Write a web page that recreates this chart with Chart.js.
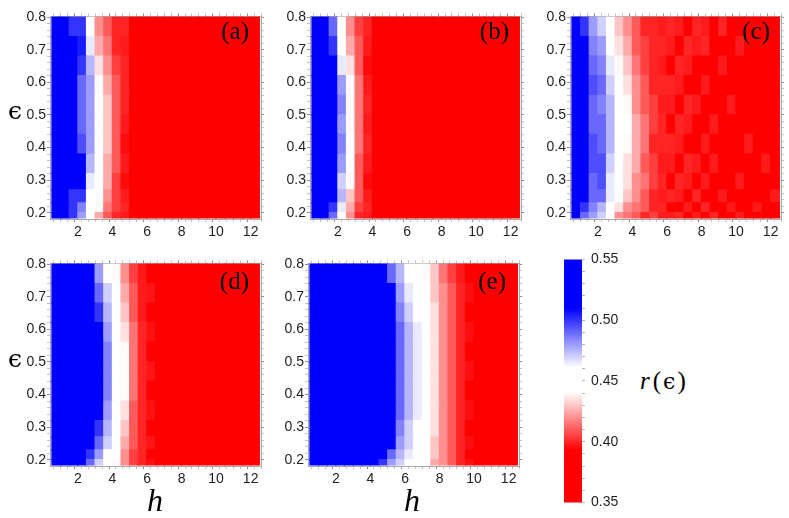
<!DOCTYPE html>
<html><head><meta charset="utf-8">
<script src="https://cdn.jsdelivr.net/npm/chart.js@4.4.1/dist/chart.umd.min.js"></script>
<style>
html,body{margin:0;padding:0;background:#fff}
body{position:relative;width:789px;height:518px;overflow:hidden}
canvas{position:absolute}
.lbl{position:absolute;font-family:"Liberation Serif","Times New Roman",serif;color:#000;line-height:1;white-space:nowrap}
</style></head><body>
<canvas id="pa" width="267" height="236" style="left:2px;top:7px"></canvas>
<canvas id="pb" width="267" height="236" style="left:262px;top:7px"></canvas>
<canvas id="pc" width="267" height="236" style="left:522px;top:7px"></canvas>
<canvas id="pd" width="267" height="236" style="left:2px;top:254px"></canvas>
<canvas id="pe" width="267" height="236" style="left:260px;top:254px"></canvas>
<canvas id="cb" width="72" height="272" style="left:560px;top:245px"></canvas>

<div class="lbl" style="right:540px;top:18px;font-size:25px">(a)</div>
<div class="lbl" style="right:280px;top:18px;font-size:25px">(b)</div>
<div class="lbl" style="right:19px;top:18px;font-size:25px">(c)</div>
<div class="lbl" style="right:540px;top:268px;font-size:25px">(d)</div>
<div class="lbl" style="right:283px;top:268px;font-size:25px">(e)</div>
<div class="lbl" style="left:8px;top:98px;font-size:25px;font-family:'DejaVu Serif',serif">ϵ</div>
<div class="lbl" style="left:8px;top:346px;font-size:25px;font-family:'DejaVu Serif',serif">ϵ</div>
<div class="lbl" style="left:147px;top:484px;font-size:32px;font-style:italic">h</div>
<div class="lbl" style="left:404px;top:484px;font-size:32px;font-style:italic">h</div>
<div class="lbl" style="left:640px;top:368px;font-size:25px"><i>r</i><span style="margin-left:3px">(</span><span style="font-family:'DejaVu Serif',serif;font-size:22px;margin:0 2px">ϵ</span>)</div>

<script>
// ---- data ----
const hCenters = [0.75,1.25,1.75,2.25,2.75,3.25,3.75,4.25,4.75,5.25,5.75,6.25,6.75,7.25,7.75,8.25,8.75,9.25,9.75,10.25,10.75,11.25,11.75,12.25];
const epsEdges = [0.185,0.20,0.23,0.27,0.32,0.38,0.44,0.50,0.56,0.62,0.68,0.74,0.80];
const xTickLabels = [2,4,6,8,10,12];
const yTickLabels = [0.2,0.3,0.4,0.5,0.6,0.7,0.8];
const cbTickLabels = [0.35,0.40,0.45,0.50,0.55];
const cmapValues = [0.35,0.393,0.441,0.461,0.51,0.55];
const cmapColors = [[255,0,0],[255,0,0],[255,255,255],[255,255,255],[0,0,255],[0,0,255]];

// rows bottom (eps 0.185) to top (eps 0.8); 24 columns h = 0.5..12.5
const panelA = [
[.55,.55,.50,.48,.455,.425,.41,.40,.398,.35,.35,.35,.35,.35,.35,.35,.35,.35,.35,.35,.35,.35,.35,.35],
[.55,.55,.50,.485,.46,.44,.415,.405,.40,.35,.35,.35,.35,.35,.35,.35,.35,.35,.35,.35,.35,.35,.35,.35],
[.55,.55,.50,.50,.46,.445,.42,.405,.398,.35,.35,.35,.35,.35,.35,.35,.35,.35,.35,.35,.35,.35,.35,.35],
[.55,.55,.51,.51,.465,.45,.425,.405,.395,.35,.35,.35,.35,.35,.35,.35,.35,.35,.35,.35,.35,.35,.35,.35],
[.55,.55,.55,.51,.475,.45,.425,.41,.398,.35,.35,.35,.35,.35,.35,.35,.35,.35,.35,.35,.35,.35,.35,.35],
[.55,.55,.55,.495,.48,.445,.43,.41,.395,.35,.35,.35,.35,.35,.35,.35,.35,.35,.35,.35,.35,.35,.35,.35],
[.55,.55,.55,.49,.48,.445,.43,.41,.398,.35,.35,.35,.35,.35,.35,.35,.35,.35,.35,.35,.35,.35,.35,.35],
[.55,.55,.55,.49,.48,.445,.43,.41,.40,.35,.35,.35,.35,.35,.35,.35,.35,.35,.35,.35,.35,.35,.35,.35],
[.55,.55,.55,.49,.48,.44,.425,.41,.40,.35,.35,.35,.35,.35,.35,.35,.35,.35,.35,.35,.35,.35,.35,.35],
[.55,.55,.55,.50,.475,.435,.42,.405,.40,.35,.35,.35,.35,.35,.35,.35,.35,.35,.35,.35,.35,.35,.35,.35],
[.55,.55,.52,.505,.465,.425,.415,.40,.398,.35,.35,.35,.35,.35,.35,.35,.35,.35,.35,.35,.35,.35,.35,.35],
[.55,.55,.50,.50,.455,.42,.41,.40,.40,.35,.35,.35,.35,.35,.35,.35,.35,.35,.35,.35,.35,.35,.35,.35]
];
const panelB = [
[.55,.55,.49,.455,.42,.40,.398,.35,.35,.35,.35,.35,.35,.35,.35,.35,.35,.35,.35,.35,.35,.35,.35,.35],
[.55,.55,.50,.465,.425,.405,.40,.35,.35,.35,.35,.35,.35,.35,.35,.35,.35,.35,.35,.35,.35,.35,.35,.35],
[.55,.55,.52,.475,.43,.41,.398,.35,.35,.35,.35,.35,.35,.35,.35,.35,.35,.35,.35,.35,.35,.35,.35,.35],
[.55,.55,.55,.47,.44,.41,.395,.35,.35,.35,.35,.35,.35,.35,.35,.35,.35,.35,.35,.35,.35,.35,.35,.35],
[.55,.55,.55,.48,.445,.41,.398,.35,.35,.35,.35,.35,.35,.35,.35,.35,.35,.35,.35,.35,.35,.35,.35,.35],
[.55,.55,.55,.485,.445,.415,.40,.35,.35,.35,.35,.35,.35,.35,.35,.35,.35,.35,.35,.35,.35,.35,.35,.35],
[.55,.55,.55,.48,.44,.415,.398,.35,.35,.35,.35,.35,.35,.35,.35,.35,.35,.35,.35,.35,.35,.35,.35,.35],
[.55,.55,.55,.485,.44,.415,.40,.35,.35,.35,.35,.35,.35,.35,.35,.35,.35,.35,.35,.35,.35,.35,.35,.35],
[.55,.55,.55,.48,.44,.415,.398,.35,.35,.35,.35,.35,.35,.35,.35,.35,.35,.35,.35,.35,.35,.35,.35,.35],
[.55,.55,.52,.465,.435,.41,.395,.35,.35,.35,.35,.35,.35,.35,.35,.35,.35,.35,.35,.35,.35,.35,.35,.35],
[.55,.55,.50,.455,.425,.41,.398,.35,.35,.35,.35,.35,.35,.35,.35,.35,.35,.35,.35,.35,.35,.35,.35,.35],
[.55,.55,.49,.455,.42,.405,.40,.35,.35,.35,.35,.35,.35,.35,.35,.35,.35,.35,.35,.35,.35,.35,.35,.35]
];
const panelC = [
[.53,.49,.48,.47,.445,.42,.415,.41,.40,.405,.398,.398,.40,.39,.398,.39,.40,.39,.385,.398,.385,.385,.39,.385],
[.55,.50,.485,.475,.46,.435,.42,.415,.41,.40,.40,.39,.39,.398,.39,.40,.39,.385,.398,.385,.385,.398,.385,.385],
[.55,.51,.49,.49,.465,.445,.43,.42,.41,.40,.398,.40,.398,.39,.40,.39,.385,.398,.385,.39,.385,.385,.385,.398],
[.55,.52,.49,.495,.465,.45,.435,.42,.415,.405,.40,.39,.40,.398,.39,.398,.39,.385,.385,.398,.385,.385,.385,.385],
[.55,.53,.495,.495,.47,.45,.435,.425,.41,.405,.398,.398,.39,.40,.398,.385,.398,.385,.39,.385,.385,.385,.398,.385],
[.55,.53,.495,.49,.475,.45,.44,.425,.415,.40,.40,.40,.398,.39,.385,.398,.385,.39,.385,.385,.398,.385,.385,.385],
[.55,.53,.49,.49,.475,.45,.445,.425,.415,.405,.40,.39,.40,.398,.39,.385,.398,.385,.385,.385,.385,.385,.385,.385],
[.55,.53,.49,.485,.475,.45,.44,.42,.41,.405,.398,.398,.39,.40,.398,.39,.385,.385,.398,.385,.385,.385,.385,.385],
[.55,.53,.495,.49,.47,.445,.435,.42,.41,.40,.40,.40,.398,.39,.385,.398,.39,.385,.385,.385,.385,.385,.385,.385],
[.55,.52,.49,.485,.465,.44,.43,.415,.405,.40,.398,.39,.40,.398,.39,.385,.385,.398,.385,.385,.385,.385,.385,.385],
[.55,.51,.485,.48,.46,.435,.425,.41,.405,.40,.40,.398,.39,.40,.398,.40,.385,.385,.39,.398,.385,.385,.385,.385],
[.55,.50,.48,.47,.455,.43,.42,.41,.40,.40,.398,.40,.398,.39,.40,.398,.39,.40,.385,.385,.385,.385,.385,.385]
];
const panelD = [
[.55,.55,.55,.55,.49,.47,.455,.44,.42,.405,.40,.396,.35,.35,.35,.35,.35,.35,.35,.35,.35,.35,.35,.35],
[.55,.55,.55,.55,.50,.48,.46,.445,.42,.405,.40,.39,.35,.35,.35,.35,.35,.35,.35,.35,.35,.35,.35,.35],
[.55,.55,.55,.55,.52,.49,.47,.45,.425,.41,.40,.397,.35,.35,.35,.35,.35,.35,.35,.35,.35,.35,.35,.35],
[.55,.55,.55,.55,.55,.50,.475,.45,.43,.41,.40,.39,.35,.35,.35,.35,.35,.35,.35,.35,.35,.35,.35,.35],
[.55,.55,.55,.55,.55,.51,.48,.45,.435,.41,.40,.396,.35,.35,.35,.35,.35,.35,.35,.35,.35,.35,.35,.35],
[.55,.55,.55,.55,.55,.52,.485,.455,.44,.415,.40,.39,.35,.35,.35,.35,.35,.35,.35,.35,.35,.35,.35,.35],
[.55,.55,.55,.55,.55,.52,.485,.455,.44,.415,.40,.397,.35,.35,.35,.35,.35,.35,.35,.35,.35,.35,.35,.35],
[.55,.55,.55,.55,.55,.51,.485,.455,.44,.415,.40,.39,.35,.35,.35,.35,.35,.35,.35,.35,.35,.35,.35,.35],
[.55,.55,.55,.55,.55,.51,.48,.45,.435,.415,.40,.396,.35,.35,.35,.35,.35,.35,.35,.35,.35,.35,.35,.35],
[.55,.55,.55,.55,.55,.50,.475,.45,.43,.41,.398,.39,.35,.35,.35,.35,.35,.35,.35,.35,.35,.35,.35,.35],
[.55,.55,.55,.55,.55,.49,.47,.445,.425,.41,.398,.397,.35,.35,.35,.35,.35,.35,.35,.35,.35,.35,.35,.35],
[.55,.55,.55,.55,.55,.48,.46,.44,.42,.405,.398,.39,.35,.35,.35,.35,.35,.35,.35,.35,.35,.35,.35,.35]
];
const panelE = [
[.55,.55,.55,.55,.55,.55,.55,.52,.50,.48,.47,.46,.45,.445,.425,.42,.41,.40,.396,.35,.35,.35,.35,.35],
[.55,.55,.55,.55,.55,.55,.55,.55,.52,.49,.475,.465,.45,.45,.43,.42,.41,.40,.39,.35,.35,.35,.35,.35],
[.55,.55,.55,.55,.55,.55,.55,.55,.55,.51,.48,.47,.455,.45,.43,.42,.41,.40,.396,.35,.35,.35,.35,.35],
[.55,.55,.55,.55,.55,.55,.55,.55,.55,.52,.485,.47,.46,.45,.435,.42,.41,.40,.39,.35,.35,.35,.35,.35],
[.55,.55,.55,.55,.55,.55,.55,.55,.55,.52,.49,.475,.465,.45,.435,.42,.41,.40,.396,.35,.35,.35,.35,.35],
[.55,.55,.55,.55,.55,.55,.55,.55,.55,.52,.49,.475,.465,.45,.435,.42,.41,.40,.39,.35,.35,.35,.35,.35],
[.55,.55,.55,.55,.55,.55,.55,.55,.55,.52,.49,.475,.465,.45,.435,.42,.41,.40,.396,.35,.35,.35,.35,.35],
[.55,.55,.55,.55,.55,.55,.55,.55,.55,.52,.49,.475,.465,.45,.435,.42,.41,.40,.39,.35,.35,.35,.35,.35],
[.55,.55,.55,.55,.55,.55,.55,.55,.55,.52,.49,.475,.465,.45,.435,.42,.41,.40,.396,.35,.35,.35,.35,.35],
[.55,.55,.55,.55,.55,.55,.55,.55,.55,.52,.485,.47,.46,.45,.435,.42,.41,.40,.39,.35,.35,.35,.35,.35],
[.55,.55,.55,.55,.55,.55,.55,.55,.55,.51,.48,.465,.455,.45,.43,.42,.41,.40,.396,.35,.35,.35,.35,.35],
[.55,.55,.55,.55,.55,.55,.55,.55,.55,.49,.475,.46,.45,.44,.43,.415,.405,.398,.39,.35,.35,.35,.35,.35]
];

// ---- rendering ----
const H_MIN = 0.38, H_MAX = 12.6, E_MIN = 0.181, E_MAX = 0.802;
const TICK_FONT = {family: "'Liberation Sans', Arial, sans-serif", size: 14};

function colorFor(v) {
  const n = cmapValues.length;
  if (v <= cmapValues[0]) return 'rgb(' + cmapColors[0].join(',') + ')';
  if (v >= cmapValues[n-1]) return 'rgb(' + cmapColors[n-1].join(',') + ')';
  for (let i = 0; i < n - 1; i++) {
    if (v >= cmapValues[i] && v <= cmapValues[i+1]) {
      const t = (v - cmapValues[i]) / (cmapValues[i+1] - cmapValues[i]);
      const a = cmapColors[i], b = cmapColors[i+1];
      return 'rgb(' + a.map((c, k) => Math.round(c + (b[k] - c) * t)).join(',') + ')';
    }
  }
}

function tickList(min, max, step) {
  const out = [];
  const start = Math.ceil(min / step - 1e-9);
  for (let k = start; k * step <= max + 1e-9; k++) out.push(+(k * step).toFixed(4));
  return out;
}

function frameAxis(pos, min, max, minorStep, majors, fmt, showLabels, size, pad) {
  const all = tickList(min, max, minorStep);
  return {
    type: 'linear', position: pos, min: min, max: max, bounds: 'data', offset: false,
    beginAtZero: false,
    afterBuildTicks: s => { s.ticks = all.map(v => ({value: v, major: majors.some(m => Math.abs(m - v) < 1e-6)})); },
    afterFit: s => { if (pos === 'left' || pos === 'right') s.width = size; else s.height = size; },
    ticks: {
      autoSkip: false, maxRotation: 0, minRotation: 0, padding: pad, font: TICK_FONT, color: '#1e1e1e',
      callback: function (v, i, t) { return (showLabels && t[i] && t[i].major) ? fmt(t[i].value) : ''; }
    },
    grid: {
      display: true, drawOnChartArea: false, drawTicks: true, tickLength: 3, lineWidth: 1,
      color: c => (c.tick && c.tick.major) ? '#8c8c8c' : '#c2c2c2'
    },
    border: {display: true, color: '#a9a9a9', width: 1}
  };
}

function makePanel(id, rows) {
  const datasets = rows.map((row, i) => ({
    data: hCenters.map((h, j) => ({x: h, y: [epsEdges[i], epsEdges[i+1]]})),
    backgroundColor: row.map(colorFor),
    borderWidth: 0, inflateAmount: 0.7, grouped: false, barPercentage: 1, categoryPercentage: 1,
    xAxisID: 'x', yAxisID: 'y'
  }));
  new Chart(document.getElementById(id), {
    type: 'bar',
    data: {datasets: datasets},
    options: {
      responsive: false, animation: false, events: [],
      layout: {padding: 0},
      plugins: {legend: {display: false}, tooltip: {enabled: false}},
      scales: {
        x: {type: 'linear', display: false, min: H_MIN, max: H_MAX, offset: false, ticks: {stepSize: 2}},
        xb: frameAxis('bottom', H_MIN, H_MAX, 0.4, xTickLabels, v => String(Math.round(v)), true, 24, 2),
        xt: frameAxis('top', H_MIN, H_MAX, 0.4, xTickLabels, v => '', false, 6, 0),
        y: frameAxis('left', E_MIN, E_MAX, 0.02, yTickLabels, v => v.toFixed(1), true, 48, 1),
        yr: frameAxis('right', E_MIN, E_MAX, 0.02, yTickLabels, v => '', false, 8, 0)
      }
    }
  });
}

makePanel('pa', panelA);
makePanel('pb', panelB);
makePanel('pc', panelC);
makePanel('pd', panelD);
makePanel('pe', panelE);

// colour bar
const cbMin = cbTickLabels[0], cbMax = cbTickLabels[cbTickLabels.length - 1];
function cbGradient(context) {
  const chart = context.chart;
  if (!chart.chartArea || !chart.scales.y) return colorFor(0.45);
  const y = chart.scales.y;
  const y0 = y.getPixelForValue(cbMin), y1 = y.getPixelForValue(cbMax);
  const g = chart.ctx.createLinearGradient(0, y0, 0, y1);
  cmapValues.forEach((v, i) => g.addColorStop((v - cbMin) / (cbMax - cbMin), 'rgb(' + cmapColors[i].join(',') + ')'));
  return g;
}
const cbAxis = frameAxis('right', cbMin, cbMax, 0.01, cbTickLabels, v => v.toFixed(2), true, 50, 6);
cbAxis.border = {display: false};
cbAxis.grid.color = '#b5b5b5';
new Chart(document.getElementById('cb'), {
  type: 'bar',
  data: {labels: [''], datasets: [{data: [[cbMin, cbMax]], backgroundColor: cbGradient, borderWidth: 0, barPercentage: 1, categoryPercentage: 1}]},
  options: {
    responsive: false, animation: false, events: [],
    layout: {padding: {left: 4, top: 10, bottom: 10, right: 0}},
    plugins: {legend: {display: false}, tooltip: {enabled: false}},
    scales: {x: {display: false}, y: cbAxis}
  }
});
</script>
</body></html>
